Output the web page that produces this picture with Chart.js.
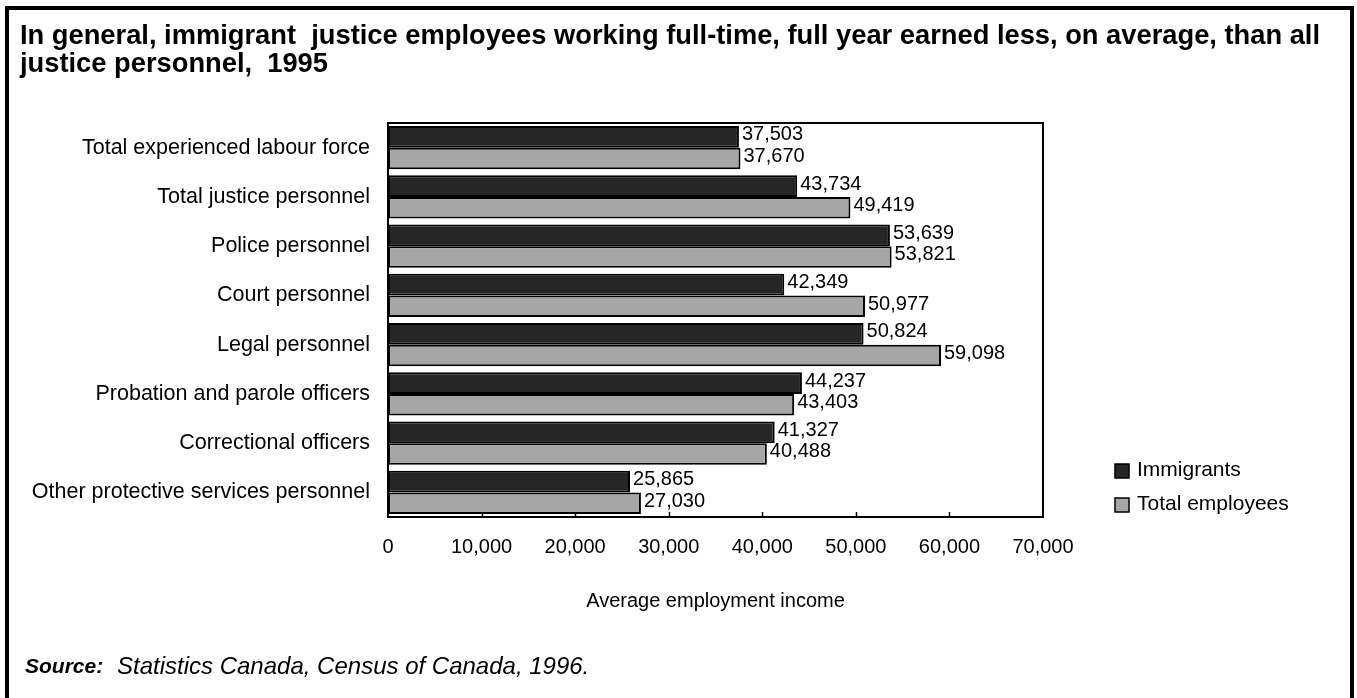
<!DOCTYPE html>
<html>
<head>
<meta charset="utf-8">
<script src="https://cdn.jsdelivr.net/npm/chart.js@4.4.1/dist/chart.umd.min.js"></script>
<style>
  body { margin: 0; background: #fff; font-family: "Liberation Sans", Arial, sans-serif; }
  #frame { position: absolute; left: 5px; top: 6px; width: 1341px; height: 691px;
           border-left: 4px solid #000; border-top: 4px solid #000; border-right: 4px solid #000;
           border-bottom: 1px solid #c8c8c8; }
  #title { position: absolute; left: 20px; top: 21px; width: 1330px; font-weight: bold;
           font-size: 27.3px; line-height: 28px; color: #000; white-space: nowrap; }
  #source { position: absolute; left: 25px; top: 654px; font-style: italic; color: #000; white-space: nowrap; }
  #source b { font-size: 21px; }
  #source span { font-size: 24px; position: absolute; left: 92px; top: -2px; }
  canvas { position: absolute; left: 0; top: 0; }
</style>
</head>
<body>
<div id="frame"></div>
<canvas id="incomeChart" width="1357" height="698"></canvas>
<div id="title">In general, immigrant&nbsp; justice employees working full-time, full year earned less, on average, than all<br>justice personnel,&nbsp; 1995</div>
<div id="source"><b>Source:</b><span>Statistics Canada, Census of Canada, 1996.</span></div>
<script>
const occupations = [
  'Total experienced labour force',
  'Total justice personnel',
  'Police personnel',
  'Court personnel',
  'Legal personnel',
  'Probation and parole officers',
  'Correctional officers',
  'Other protective services personnel'
];
const immigrantsIncome = [37503, 43734, 53639, 42349, 50824, 44237, 41327, 25865];
const totalEmployeesIncome = [37670, 49419, 53821, 50977, 59098, 43403, 40488, 27030];
const incomeTicks = [0, 10000, 20000, 30000, 40000, 50000, 60000, 70000];

const FONT = '"Liberation Sans", Arial, sans-serif';
const fmt = v => v.toLocaleString('en-US');

// frame round the plot area plus small inward tick marks on the bottom axis
const plotFrame = {
  id: 'plotFrame',
  afterDatasetsDraw(chart) {
    const { ctx, chartArea: a, scales: { x } } = chart;
    ctx.save();
    ctx.strokeStyle = '#000';
    ctx.lineWidth = 2;
    ctx.strokeRect(a.left, a.top, a.right - a.left, a.bottom - a.top);
    ctx.beginPath();
    incomeTicks.slice(1, -1).forEach(v => {
      const px = Math.round(x.getPixelForValue(v)) + 0.5;
      ctx.moveTo(px, a.bottom);
      ctx.lineTo(px, a.bottom - 5);
    });
    ctx.lineWidth = 1.5;
    ctx.stroke();
    ctx.restore();
  }
};

// value labels at the end of each bar
const barValues = {
  id: 'barValues',
  afterDatasetsDraw(chart) {
    const { ctx } = chart;
    ctx.save();
    ctx.font = '20px ' + FONT;
    ctx.fillStyle = '#000';
    ctx.textBaseline = 'middle';
    ctx.textAlign = 'left';
    chart.data.datasets.forEach((ds, i) => {
      chart.getDatasetMeta(i).data.forEach((bar, j) => {
        ctx.fillText(fmt(ds.data[j]), bar.x + 3, bar.y - 2);
      });
    });
    ctx.restore();
  }
};

// legend box at the lower right
const sideLegend = {
  id: 'sideLegend',
  afterDraw(chart) {
    const { ctx } = chart;
    ctx.save();
    ctx.font = '21px ' + FONT;
    ctx.textBaseline = 'middle';
    chart.data.datasets.forEach((ds, i) => {
      const y = 470 + i * 34;
      ctx.fillStyle = ds.backgroundColor;
      ctx.fillRect(1115, y - 6, 14, 14);
      ctx.strokeStyle = '#000';
      ctx.lineWidth = 1.5;
      ctx.strokeRect(1115, y - 6, 14, 14);
      ctx.fillStyle = '#000';
      ctx.fillText(ds.label, 1137, y);
    });
    ctx.restore();
  }
};

new Chart(document.getElementById('incomeChart'), {
  type: 'bar',
  data: {
    labels: occupations,
    datasets: [{
      label: 'Immigrants',
      data: immigrantsIncome,
      backgroundColor: '#262626',
      borderColor: '#000',
      borderWidth: 2,
      borderSkipped: false
    }, {
      label: 'Total employees',
      data: totalEmployeesIncome,
      backgroundColor: '#a6a6a6',
      borderColor: '#000',
      borderWidth: 2,
      borderSkipped: false
    }]
  },
  options: {
    indexAxis: 'y',
    responsive: false,
    animation: false,
    devicePixelRatio: 1,
    layout: { padding: { top: 123, right: 314, bottom: 79, left: 0 } },
    categoryPercentage: 0.88,
    barPercentage: 1,
    plugins: { legend: { display: false }, tooltip: { enabled: false } },
    scales: {
      x: {
        min: 0,
        max: 70000,
        afterBuildTicks: scale => { scale.ticks = incomeTicks.map(v => ({ value: v })); },
        afterFit: scale => { scale.height = 102; },
        grid: { display: false },
        border: { display: false },
        ticks: {
          padding: 10,
          color: '#000',
          maxRotation: 0,
          font: { family: FONT, size: 20 },
          callback: v => fmt(v)
        },
        title: {
          display: true,
          text: 'Average employment income',
          color: '#000',
          font: { family: FONT, size: 20 },
          padding: { top: 0, bottom: 6 }
        }
      },
      y: {
        afterFit: scale => { scale.width = 388; },
        grid: { display: false },
        border: { display: false },
        ticks: {
          padding: 10,
          color: '#000',
          font: { family: FONT, size: 21.5 }
        }
      }
    }
  },
  plugins: [plotFrame, barValues, sideLegend]
});
</script>
</body>
</html>
